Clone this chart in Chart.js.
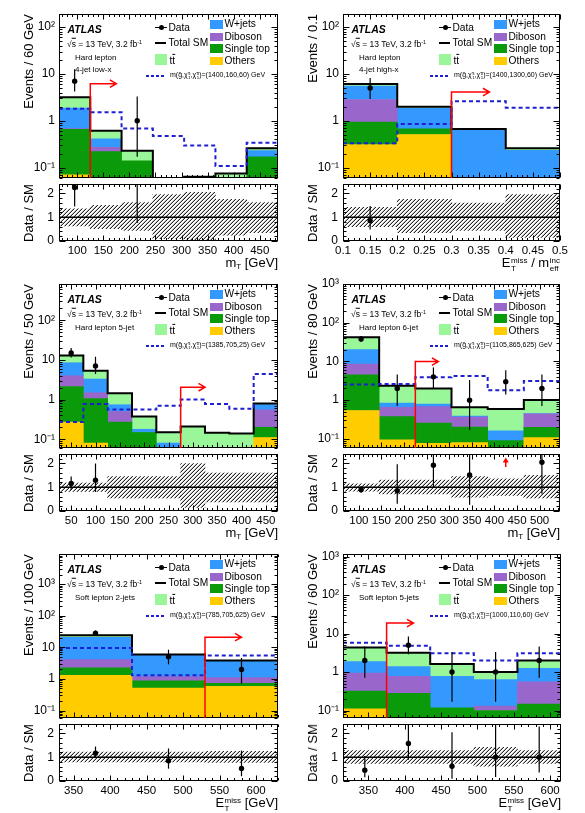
<!DOCTYPE html>
<html>
<head>
<meta charset="utf-8">
<title>Signal region distributions</title>
<script src="https://cdn.jsdelivr.net/npm/chart.js@4.4.1/dist/chart.umd.min.js"></script>
<style>
  body { margin: 0; background: #fff; }
  #page { position: relative; width: 585px; height: 813px; overflow: hidden;
          font-family: "Liberation Sans", Arial, Helvetica, sans-serif; color: #000; }
  #page canvas { position: absolute; }
  .t { position: absolute; white-space: nowrap; line-height: 1; }
  .vt { position: absolute; white-space: nowrap; line-height: 1; writing-mode: vertical-rl; font-size: 13px; }
  .sym { position: absolute; }
  .ss { display: inline-flex; flex-direction: column; font-size: 0.62em; line-height: 0.95; vertical-align: 0.42em; margin-left: 0.5px; }
  sub { font-size: 0.62em; vertical-align: -0.3em; line-height: 0; }
  sup { font-size: 0.62em; vertical-align: 0.5em; line-height: 0; }
</style>
</head>
<body>
<div id="page"></div>
<script>
// ---- values ----
// Hard lepton 4-jet low-x, mT
const p1Edges     = [65, 125, 185, 245, 305, 365, 425, 485];
const p1Others    = [0.07, 0, 0, 0, 0, 0, 0];
const p1SingleTop = [0.59, 0.22, 0.14, 0, 0.064, 0, 0.17];
const p1Diboson   = [0.02, 0.05, 0, 0, 0, 0, 0];
const p1Wjets     = [1.19, 0.14, 0, 0, 0, 0, 0.06];
const p1Ttbar     = [1.3, 0.2, 0.09, 0.045, 0, 0.075, 0.03];
const p1Signal    = [1.8, 1.52, 0.68, 0.47, 0.295, 0.108, 0.34];
const p1Data      = [7, null, 1, null, null, null, null];
const p1DataLo    = [4.2, null, 0.17, null, null, null, null];
const p1DataHi    = [12.5, null, 3.3, null, null, null, null];
const p1Ratio     = [2.25, null, 4.3, null, null, null, null];
const p1RatioLo   = [1.45, null, 0.76, null, null, null, null];
const p1RatioHi   = [3.8, null, 14, null, null, null, null];
const p1BandLo    = [0.63, 0.52, 0.45, 0.1, 0, 0.25, 0.35];
const p1BandHi    = [1.35, 1.5, 1.62, 1.95, 2.05, 1.75, 1.62];
const p1XTicks    = [100, 150, 200, 250, 300, 350, 400, 450];

// Hard lepton 4-jet high-x, MET / meff
const p2Edges     = [0.1, 0.2, 0.3, 0.4, 0.5];
const p2Others    = [0.31, 0.51, 0, 0];
const p2SingleTop = [0.63, 0.16, 0, 0];
const p2Diboson   = [1.9, 0, 0, 0];
const p2Wjets     = [2.66, 1.17, 0.63, 0.235];
const p2Ttbar     = [0.6, 0.16, 0.04, 0.025];
const p2Signal    = [0.33, 0.85, 2.6, 1.9];
const p2Data      = [5, null, null, null];
const p2DataLo    = [2.9, null, null, null];
const p2DataHi    = [8.2, null, null, null];
const p2Ratio     = [0.86, null, null, null];
const p2RatioLo   = [0.48, null, null, null];
const p2RatioHi   = [1.47, null, null, null];
const p2BandLo    = [0.6, 0.35, 0.45, 0.15];
const p2BandHi    = [1.42, 1.75, 1.6, 1.95];
const p2XTicks    = [0.1, 0.15, 0.2, 0.25, 0.3, 0.35, 0.4, 0.45, 0.5];

// Hard lepton 5-jet, mT
const p3Edges     = [25, 75, 125, 175, 225, 275, 325, 375, 425, 475];
const p3Others    = [0.27, 0.08, 0, 0, 0, 0, 0, 0, 0.11];
const p3SingleTop = [1.86, 0.98, 0.27, 0.148, 0, 0, 0, 0, 0.09];
const p3Diboson   = [1.85, 0.43, 0.23, 0, 0, 0, 0, 0, 0.35];
const p3Wjets     = [4.5, 1.8, 0.24, 0.03, 0.08, 0, 0, 0, 0.2];
const p3Ttbar     = [4.5, 2.0, 0.7, 0.195, 0.07, 0.21, 0.145, 0.14, 0.05];
const p3Signal    = [0.27, 0.77, 0.56, 0.56, 0.7, 1.0, 0.77, 0.59, 4.4];
const p3Data      = [15, 7, null, null, null, null, null, null, null];
const p3DataLo    = [11.5, 4.4, null, null, null, null, null, null, null];
const p3DataHi    = [20, 12, null, null, null, null, null, null, null];
const p3Ratio     = [1.16, 1.3, null, null, null, null, null, null, null];
const p3RatioLo   = [0.88, 0.8, null, null, null, null, null, null, null];
const p3RatioHi   = [1.45, 2.0, null, null, null, null, null, null, null];
const p3BandLo    = [0.82, 0.82, 0.55, 0.55, 0.55, 0.15, 0.38, 0.38, 0.38];
const p3BandHi    = [1.18, 1.18, 1.45, 1.45, 1.45, 2.0, 1.6, 1.6, 1.6];
const p3XTicks    = [50, 100, 150, 200, 250, 300, 350, 400, 450];

// Hard lepton 6-jet, mT
const p4Edges     = [65, 145, 225, 305, 385, 465, 545];
const p4Others    = [0.54, 0.094, 0.077, 0.08, 0, 0.107];
const p4SingleTop = [3.96, 0.28, 0.18, 0.12, 0.09, 0.09];
const p4Diboson   = [4.1, 0.28, 0.42, 0.165, 0, 0.245];
const p4Wjets     = [11.6, 0.19, 0.11, 0.02, 0.07, 0.01];
const p4Ttbar     = [22, 1.5, 1.2, 0.265, 0.43, 0.55];
const p4Signal    = [2.54, 2.6, 3.9, 4.2, 1.8, 3.1];
const p4Data      = [38, 2, 4, 1, 3, 2];
const p4DataLo    = [32, 0.71, 2.0, 0.17, 1.4, 0.71];
const p4DataHi    = [45, 4.6, 7.0, 3.3, 5.9, 4.6];
const p4Ratio     = [0.9, 0.85, 1.93, 1.52, null, 2.05];
const p4RatioLo   = [0.77, 0.31, 1.0, 0.26, null, 0.73];
const p4RatioHi   = [1.05, 1.97, 3.4, 5, null, 4.5];
const p4BandLo    = [0.84, 0.72, 0.72, 0.58, 0.66, 0.55];
const p4BandHi    = [1.14, 1.3, 1.3, 1.45, 1.35, 1.5];
const p4XTicks    = [100, 150, 200, 250, 300, 350, 400, 450, 500];
const p4RatioOff  = [425];   // data/SM above the ratio range

// Soft lepton 2-jets, MET
const p5Edges     = [330, 430, 530, 630];
const p5Others    = [1.3, 0.51, 0.58];
const p5SingleTop = [0.94, 0.36, 0.15];
const p5Diboson   = [1.83, 0.31, 0.37];
const p5Wjets     = [16.5, 4.6, 2.5];
const p5Ttbar     = [3.7, 0.2, 0.2];
const p5Signal    = [9.6, 1.3, 5.5];
const p5Data      = [28, 5, 2];
const p5DataLo    = [23, 2.9, 0.71];
const p5DataHi    = [34, 8.4, 4.6];
const p5Ratio     = [1.17, 0.85, 0.53];
const p5RatioLo   = [1.0, 0.52, 0.2];
const p5RatioHi   = [1.45, 1.37, 1.28];
const p5BandLo    = [0.8, 0.8, 0.78];
const p5BandHi    = [1.22, 1.22, 1.25];
const p5XTicks    = [350, 400, 450, 500, 550, 600];

// Soft lepton 5-jets, MET
const p6Edges     = [315, 375, 435, 495, 555, 615];
const p6Others    = [0.11, 0, 0, 0, 0];
const p6SingleTop = [0.21, 0.28, 0.117, 0.1, 0.148];
const p6Diboson   = [0.62, 0.5, 0, 0.03, 0.41];
const p6Wjets     = [0.93, 0.61, 0.66, 0.51, 0.7];
const p6Ttbar     = [2.45, 1.8, 0.85, 0.36, 0.74];
const p6Signal    = [5.8, 4.8, 3.1, 2.0, 3.1];
const p6Data      = [2, 5, 1, 1, 2];
const p6DataLo    = [0.71, 2.9, 0.17, 0.17, 0.71];
const p6DataHi    = [4.6, 8.4, 3.3, 3.3, 4.6];
const p6Ratio     = [0.45, 1.58, 0.62, 1.0, 1.0];
const p6RatioLo   = [0.16, 0.9, 0.1, 0.17, 0.36];
const p6RatioHi   = [1.05, 2.6, 2.05, 3.3, 2.3];
const p6BandLo    = [0.74, 0.74, 0.74, 0.62, 0.74];
const p6BandHi    = [1.28, 1.28, 1.28, 1.42, 1.28];
const p6XTicks    = [350, 400, 450, 500, 550, 600];

// axis ranges, per panel
const xMin   = [65, 0.1, 25, 65, 330, 315];
const xMax   = [485, 0.5, 475, 545, 630, 615];
const xMajor = [50, 0.05, 50, 50, 50, 50];
const xMinor = [10, 0.01, 10, 10, 10, 10];
const yMin   = [0.06, 0.06, 0.06, 0.058, 0.058, 0.064];
const yMax   = [190, 190, 820, 1000, 9000, 1170];

// selection cut arrows: cut value, arrow height, arrow tip
const cutX   = [125, 0.3, 275, 225, 530, 375];
const cutY   = [6.2, 4.1, 2.05, 9.9, 21, 18.7];
const cutEnd = [175, 0.37, 325, 276, 580, 412];

// texts
const yTitles = ['Events / 60 GeV', 'Events / 0.1', 'Events / 50 GeV', 'Events / 80 GeV', 'Events / 100 GeV', 'Events / 60 GeV'];
const xTitles = [
  'm<sub>T</sub> [GeV]',
  'E<span class="ss"><span>miss</span><span>T</span></span> / m<span class="ss"><span>inc</span><span>eff</span></span>',
  'm<sub>T</sub> [GeV]',
  'm<sub>T</sub> [GeV]',
  'E<span class="ss"><span>miss</span><span>T</span></span> [GeV]',
  'E<span class="ss"><span>miss</span><span>T</span></span> [GeV]'
];
const regionText = [['Hard lepton', '4-jet low-x'], ['Hard lepton', '4-jet high-x'], ['Hard lepton 5-jet'],
                    ['Hard lepton 6-jet'], ['Soft lepton 2-jets'], ['Soft lepton 5-jets']];
const signalMass = ['(1400,160,60)', '(1400,1300,60)', '(1385,705,25)', '(1105,865,625)', '(785,705,625)', '(1000,110,60)'];

const bkgNames  = ['Others', 'Single top', 'Diboson', 'W+jets', 't\u0305t'];
const bkgColors = ['#ffcc00', '#0a9a0a', '#9966cc', '#3399ff', '#99f799'];
const sigColor = '#1e1ed2';
const FONT = '"Liberation Sans", Arial, Helvetica, sans-serif';

const panels = [
  { edges: p1Edges, stack: [p1Others, p1SingleTop, p1Diboson, p1Wjets, p1Ttbar], signal: p1Signal,
    data: p1Data, dataLo: p1DataLo, dataHi: p1DataHi, ratio: p1Ratio, ratioLo: p1RatioLo, ratioHi: p1RatioHi,
    bandLo: p1BandLo, bandHi: p1BandHi, xTicks: p1XTicks, off: [] },
  { edges: p2Edges, stack: [p2Others, p2SingleTop, p2Diboson, p2Wjets, p2Ttbar], signal: p2Signal,
    data: p2Data, dataLo: p2DataLo, dataHi: p2DataHi, ratio: p2Ratio, ratioLo: p2RatioLo, ratioHi: p2RatioHi,
    bandLo: p2BandLo, bandHi: p2BandHi, xTicks: p2XTicks, off: [] },
  { edges: p3Edges, stack: [p3Others, p3SingleTop, p3Diboson, p3Wjets, p3Ttbar], signal: p3Signal,
    data: p3Data, dataLo: p3DataLo, dataHi: p3DataHi, ratio: p3Ratio, ratioLo: p3RatioLo, ratioHi: p3RatioHi,
    bandLo: p3BandLo, bandHi: p3BandHi, xTicks: p3XTicks, off: [] },
  { edges: p4Edges, stack: [p4Others, p4SingleTop, p4Diboson, p4Wjets, p4Ttbar], signal: p4Signal,
    data: p4Data, dataLo: p4DataLo, dataHi: p4DataHi, ratio: p4Ratio, ratioLo: p4RatioLo, ratioHi: p4RatioHi,
    bandLo: p4BandLo, bandHi: p4BandHi, xTicks: p4XTicks, off: p4RatioOff },
  { edges: p5Edges, stack: [p5Others, p5SingleTop, p5Diboson, p5Wjets, p5Ttbar], signal: p5Signal,
    data: p5Data, dataLo: p5DataLo, dataHi: p5DataHi, ratio: p5Ratio, ratioLo: p5RatioLo, ratioHi: p5RatioHi,
    bandLo: p5BandLo, bandHi: p5BandHi, xTicks: p5XTicks, off: [] },
  { edges: p6Edges, stack: [p6Others, p6SingleTop, p6Diboson, p6Wjets, p6Ttbar], signal: p6Signal,
    data: p6Data, dataLo: p6DataLo, dataHi: p6DataHi, ratio: p6Ratio, ratioLo: p6RatioLo, ratioHi: p6RatioHi,
    bandLo: p6BandLo, bandHi: p6BandHi, xTicks: p6XTicks, off: [] }
];

// frame boxes of each panel on the page (main pad + ratio pad)
const frames = [
  { l: 59,  r: 278, t: 14,  mb: 182, rt: 184, rb: 241 },
  { l: 343, r: 560, t: 14,  mb: 182, rt: 184, rb: 241 },
  { l: 59,  r: 278, t: 284, mb: 452, rt: 454, rb: 511 },
  { l: 343, r: 560, t: 284, mb: 452, rt: 454, rb: 511 },
  { l: 59,  r: 278, t: 554, mb: 722, rt: 724, rb: 781 },
  { l: 343, r: 561, t: 554, mb: 722, rt: 724, rb: 781 }
];

Chart.defaults.font.family = FONT;
Chart.defaults.color = '#000';

const page = document.getElementById('page');

function hatchPattern() {
  // one-pixel diagonal lines, rising to the right
  const n = 4;
  const c = document.createElement('canvas');
  c.width = n; c.height = n;
  const g = c.getContext('2d');
  for (let k = 0; k < n; k++) {
    g.fillStyle = 'rgba(0,0,0,0.85)';
    g.fillRect(k, n - 1 - k, 1, 1);
    g.fillStyle = 'rgba(0,0,0,0.25)';
    g.fillRect(k, (2 * n - 2 - k) % n, 1, 1);
  }
  return g.createPattern(c, 'repeat');
}
const hatch = hatchPattern();

function logLabel(v) {
  const e = Math.round(Math.log10(v));
  if (e === 0) return '1';
  if (e === 1) return '10';
  if (e === -1) return '10\u207B\u00B9';
  if (e === 2) return '10\u00B2';
  if (e === 3) return '10\u00B3';
  return '';
}

// frame, inward ticks, error bars and cut arrows (all through the chart scales)
const atlasPlugin = {
  id: 'atlas',
  afterDatasetsDraw(chart, args, o) {
    const { ctx, chartArea: a } = chart;
    const xs = chart.scales.x, ys = chart.scales.y;
    ctx.save();
    ctx.beginPath();
    ctx.rect(a.left, a.top, a.right - a.left, a.bottom - a.top);
    ctx.clip();
    ctx.strokeStyle = '#000';
    ctx.lineWidth = 1.2;
    for (let k = 0; k < o.errX.length; k++) {
      if (o.errLo[k] == null) continue;
      const px = xs.getPixelForValue(o.errX[k]);
      ctx.beginPath();
      ctx.moveTo(px, ys.getPixelForValue(o.errLo[k]));
      ctx.lineTo(px, ys.getPixelForValue(o.errHi[k]));
      ctx.stroke();
    }
    ctx.restore();
  },
  afterDraw(chart, args, o) {
    const { ctx, chartArea: a } = chart;
    const xs = chart.scales.x, ys = chart.scales.y;
    const L = Math.round(a.left) + 0.5, R = Math.round(a.right) - 0.5;
    const T = Math.round(a.top) + 0.5, B = Math.round(a.bottom) - 0.5;
    ctx.save();
    ctx.strokeStyle = '#000';
    ctx.lineWidth = 1;
    ctx.beginPath();
    // x ticks, bottom and top
    const n0 = Math.ceil(o.xMin / o.xMinor - 1e-6);
    for (let n = n0; n * o.xMinor <= o.xMax + 1e-9; n++) {
      const v = n * o.xMinor;
      const q = v / o.xMajor;
      const len = Math.abs(q - Math.round(q)) < 1e-6 ? 5 : 2.5;
      const px = Math.round(xs.getPixelForValue(v)) + 0.5;
      ctx.moveTo(px, B); ctx.lineTo(px, B - len);
      ctx.moveTo(px, T); ctx.lineTo(px, T + len);
    }
    // y ticks, left and right
    const yv = [];
    if (o.log) {
      for (let d = Math.floor(Math.log10(ys.min)); d <= Math.ceil(Math.log10(ys.max)); d++) {
        for (let k = 1; k <= 9; k++) {
          const v = k * Math.pow(10, d);
          if (v >= ys.min * 0.999 && v <= ys.max * 1.001) yv.push([v, k === 1]);
        }
      }
    } else {
      for (let n = 0; n * 0.2 <= ys.max + 1e-9; n++) yv.push([n * 0.2, n % 5 === 0]);
    }
    yv.forEach(([v, major]) => {
      const len = major ? 6 : 3;
      const py = Math.round(ys.getPixelForValue(v)) + 0.5;
      ctx.moveTo(L, py); ctx.lineTo(L + len, py);
      ctx.moveTo(R, py); ctx.lineTo(R - len, py);
    });
    ctx.stroke();
    ctx.strokeRect(L, T, R - L, B - T);

    ctx.strokeStyle = '#ff0000';
    ctx.fillStyle = '#ff0000';
    ctx.lineWidth = 1.5;
    if (o.cut) {
      const px = xs.getPixelForValue(o.cut[0]);
      const py = ys.getPixelForValue(o.cut[1]);
      const pe = xs.getPixelForValue(o.cut[2]);
      ctx.beginPath();
      ctx.moveTo(px, a.bottom); ctx.lineTo(px, py); ctx.lineTo(pe, py);
      ctx.moveTo(pe - 6.5, py - 3.8); ctx.lineTo(pe, py); ctx.lineTo(pe - 6.5, py + 3.8);
      ctx.stroke();
    }
    (o.up || []).forEach(v => {
      const px = xs.getPixelForValue(v);
      const p0 = ys.getPixelForValue(1.85), p1 = ys.getPixelForValue(2.25);
      ctx.beginPath();
      ctx.moveTo(px, p0); ctx.lineTo(px, p1 + 4); ctx.stroke();
      ctx.beginPath();
      ctx.moveTo(px - 3, p1 + 5); ctx.lineTo(px, p1); ctx.lineTo(px + 3, p1 + 5); ctx.closePath(); ctx.fill();
    });
    ctx.restore();
  }
};

function makeCanvas(left, top, w, h) {
  const cv = document.createElement('canvas');
  cv.width = w; cv.height = h;
  cv.style.left = left + 'px';
  cv.style.top = top + 'px';
  cv.style.width = w + 'px';
  cv.style.height = h + 'px';
  page.appendChild(cv);
  return cv;
}

function stepPoints(edges, vals) {
  const pts = vals.map((v, k) => ({ x: edges[k], y: v }));
  pts.push({ x: edges[vals.length], y: vals[vals.length - 1] });
  return pts;
}

function baseOptions(padR, padT) {
  return {
    responsive: false,
    animation: false,
    devicePixelRatio: 1,
    events: [],
    layout: { padding: { left: 0, right: padR, top: padT, bottom: 0 } },
    plugins: { legend: { display: false }, tooltip: { enabled: false } }
  };
}

function xbScale(i, edges) {
  // hidden axis the bars sit on; its ticks are the bin edges so bars fill each bin
  return {
    type: 'linear', display: false, min: xMin[i], max: xMax[i], offset: false,
    afterBuildTicks: s => { s.ticks = edges.map(v => ({ value: v })); }
  };
}

function mainChart(i) {
  const p = panels[i], f = frames[i];
  const padL = 48, padR = 12, padT = 8;
  const w = f.r - f.l + padL + padR, h = f.mb - f.t + padT;
  const cv = makeCanvas(f.l - padL, f.t - padT, w, h);
  const centers = p.data.map((d, k) => (p.edges[k] + p.edges[k + 1]) / 2);
  const total = centers.map((c, k) => p.stack.reduce((s, arr) => s + arr[k], 0));
  const datasets = [
    { type: 'line', xAxisID: 'x', stack: 'data', showLine: false, pointRadius: 2.7, pointBorderWidth: 0,
      pointBackgroundColor: '#000', data: centers.map((c, k) => ({ x: c, y: p.data[k] })).filter(d => d.y != null) },
    { type: 'line', xAxisID: 'x', stack: 'sig', stepped: true, pointRadius: 0, borderColor: sigColor,
      borderWidth: 2, borderDash: [4, 3], fill: false, data: stepPoints(p.edges, p.signal) },
    { type: 'line', xAxisID: 'x', stack: 'tot', stepped: true, pointRadius: 0, borderColor: '#000',
      borderWidth: 2, fill: false, data: stepPoints(p.edges, total) }
  ];
  p.stack.forEach((arr, j) => {
    datasets.push({
      type: 'bar', xAxisID: 'xb', stack: 'bkg', label: bkgNames[j], backgroundColor: bkgColors[j],
      borderWidth: 0, barPercentage: 1, categoryPercentage: 1, grouped: false,
      data: centers.map((c, k) => ({ x: c, y: arr[k] > 0 ? arr[k] : null }))
    });
  });
  const opt = baseOptions(padR, padT);
  opt.scales = {
    x: { type: 'linear', display: false, min: xMin[i], max: xMax[i], offset: false, stacked: true },
    xb: Object.assign(xbScale(i, p.edges), { stacked: true }),
    y: {
      type: 'logarithmic', min: yMin[i], max: yMax[i], stacked: true,
      afterBuildTicks: s => {
        s.ticks = [0.1, 1, 10, 100, 1000].filter(v => v >= yMin[i] && v <= yMax[i] * 1.001).map(v => ({ value: v }));
      },
      afterFit: s => { s.width = padL; s.paddingTop = 0; s.paddingBottom = 0; },
      ticks: { callback: v => logLabel(v), font: { size: 12 }, color: '#000', padding: 4, autoSkip: false },
      grid: { display: false, drawTicks: false }, border: { display: false }
    }
  };
  opt.plugins.atlas = {
    errX: centers, errLo: p.dataLo, errHi: p.dataHi, log: true,
    xMin: xMin[i], xMax: xMax[i], xMajor: xMajor[i], xMinor: xMinor[i],
    cut: [cutX[i], cutY[i], cutEnd[i]]
  };
  new Chart(cv, { type: 'bar', data: { datasets }, options: opt, plugins: [atlasPlugin] });
}

function ratioChart(i) {
  const p = panels[i], f = frames[i];
  const padL = 48, padR = 12, padT = 4, padB = 22;
  const w = f.r - f.l + padL + padR, h = f.rb - f.rt + padT + padB;
  const cv = makeCanvas(f.l - padL, f.rt - padT, w, h);
  const centers = p.data.map((d, k) => (p.edges[k] + p.edges[k + 1]) / 2);
  const datasets = [
    { type: 'line', xAxisID: 'x', showLine: false, pointRadius: 2.7, pointBorderWidth: 0, pointBackgroundColor: '#000',
      data: centers.map((c, k) => ({ x: c, y: p.ratio[k] })).filter(d => d.y != null) },
    { type: 'line', xAxisID: 'x', pointRadius: 0, borderColor: '#000', borderWidth: 1.5,
      data: [{ x: xMin[i], y: 1 }, { x: xMax[i], y: 1 }] },
    { type: 'bar', xAxisID: 'xb', backgroundColor: hatch, borderWidth: 0, barPercentage: 1, categoryPercentage: 1,
      grouped: false, data: centers.map((c, k) => ({ x: c, y: [p.bandLo[k], p.bandHi[k]] })) }
  ];
  const opt = baseOptions(padR, padT);
  opt.scales = {
    x: {
      type: 'linear', min: xMin[i], max: xMax[i], offset: false,
      afterBuildTicks: s => { s.ticks = p.xTicks.map(v => ({ value: v })); },
      afterFit: s => { s.height = padB; s.paddingLeft = 0; s.paddingRight = 0; },
      ticks: { callback: v => String(Math.round(v * 100) / 100), font: { size: 11.5 }, color: '#000',
               padding: 3, autoSkip: false, maxRotation: 0 },
      grid: { display: false, drawTicks: false }, border: { display: false }
    },
    xb: xbScale(i, p.edges),
    y: {
      type: 'linear', min: 0, max: 2.4,
      afterBuildTicks: s => { s.ticks = [0, 1, 2].map(v => ({ value: v })); },
      afterFit: s => { s.width = padL; s.paddingTop = 0; s.paddingBottom = 0; },
      ticks: { font: { size: 12 }, color: '#000', padding: 5, autoSkip: false },
      grid: { display: false, drawTicks: false }, border: { display: false }
    }
  };
  opt.plugins.atlas = {
    errX: centers, errLo: p.ratioLo, errHi: p.ratioHi, log: false,
    xMin: xMin[i], xMax: xMax[i], xMajor: xMajor[i], xMinor: xMinor[i],
    up: p.off
  };
  new Chart(cv, { type: 'bar', data: { datasets }, options: opt, plugins: [atlasPlugin] });
}

function addDiv(cls, html, x, y, style) {
  const d = document.createElement('div');
  d.className = cls;
  d.innerHTML = html;
  d.style.left = x + 'px';
  d.style.top = y + 'px';
  if (style) Object.assign(d.style, style);
  page.appendChild(d);
  return d;
}

function labels(i) {
  const f = frames[i], L = f.l, T = f.t;
  const mid = 'translateY(-50%)';
  const lg = '10.2px';
  // axis titles
  addDiv('vt', yTitles[i], f.l - 37, f.t, { transform: 'rotate(180deg)' });
  addDiv('vt', 'Data / SM', f.l - 37, (f.rt + f.rb) / 2, { transform: 'translateY(-50%) rotate(180deg)' });
  addDiv('t', xTitles[i], f.r, f.rb + 14.5, { fontSize: '13px', transform: 'translateX(-100%)' });
  // ATLAS label block
  addDiv('t', 'ATLAS', L + 8.5, T + 15, { transform: mid, fontSize: '10.5px', fontWeight: 'bold', fontStyle: 'italic' });
  addDiv('t', '\u221A<span style="text-decoration:overline">s</span> = 13 TeV, 3.2 fb<sup>-1</sup>', L + 8, T + 30,
         { transform: mid, fontSize: '8.5px' });
  regionText[i].forEach((s, k) => addDiv('t', s, L + 16, T + 43.5 + 12 * k, { transform: mid, fontSize: '8px' }));
  // legend: data, total, ttbar
  addDiv('sym', '', L + 96, T + 13.2, { width: '12px', height: '1.2px', background: '#000' });
  addDiv('sym', '', L + 99.5, T + 11.3, { width: '5px', height: '5px', borderRadius: '50%', background: '#000' });
  addDiv('t', 'Data', L + 109.5, T + 13.8, { transform: mid, fontSize: lg });
  addDiv('sym', '', L + 96, T + 28.3, { width: '11px', height: '2px', background: '#000' });
  addDiv('t', 'Total SM', L + 109.5, T + 29.3, { transform: mid, fontSize: lg });
  addDiv('sym', '', L + 96, T + 40.3, { width: '12px', height: '11px', background: bkgColors[4] });
  addDiv('t', 't<span style="text-decoration:overline">t</span>', L + 110.5, T + 46.5, { transform: mid, fontSize: lg });
  // legend: other backgrounds
  [[3, 10.3], [2, 23], [1, 34.7], [0, 47]].forEach(([j, yc]) => {
    addDiv('sym', '', L + 151, T + yc - 4.3, { width: '13px', height: '8.6px', background: bkgColors[j] });
    addDiv('t', bkgNames[j], L + 165.5, T + yc, { transform: mid, fontSize: lg });
  });
  // signal
  addDiv('sym', '', L + 87, T + 61, { width: '19px', height: '2px',
    background: 'repeating-linear-gradient(90deg,' + sigColor + ' 0 3px, transparent 3px 5px)' });
  addDiv('t', 'm(g\u0303,\u03C7\u0303<span class="ss"><span>\u00B1</span><span>1</span></span>,\u03C7\u0303<span class="ss"><span>0</span><span>1</span></span>)=' +
         signalMass[i] + ' GeV', L + 111, T + 62, { transform: mid, fontSize: '7px' });
}

for (let i = 0; i < panels.length; i++) {
  mainChart(i);
  ratioChart(i);
}
for (let i = 0; i < panels.length; i++) labels(i);
</script>
</body>
</html>
